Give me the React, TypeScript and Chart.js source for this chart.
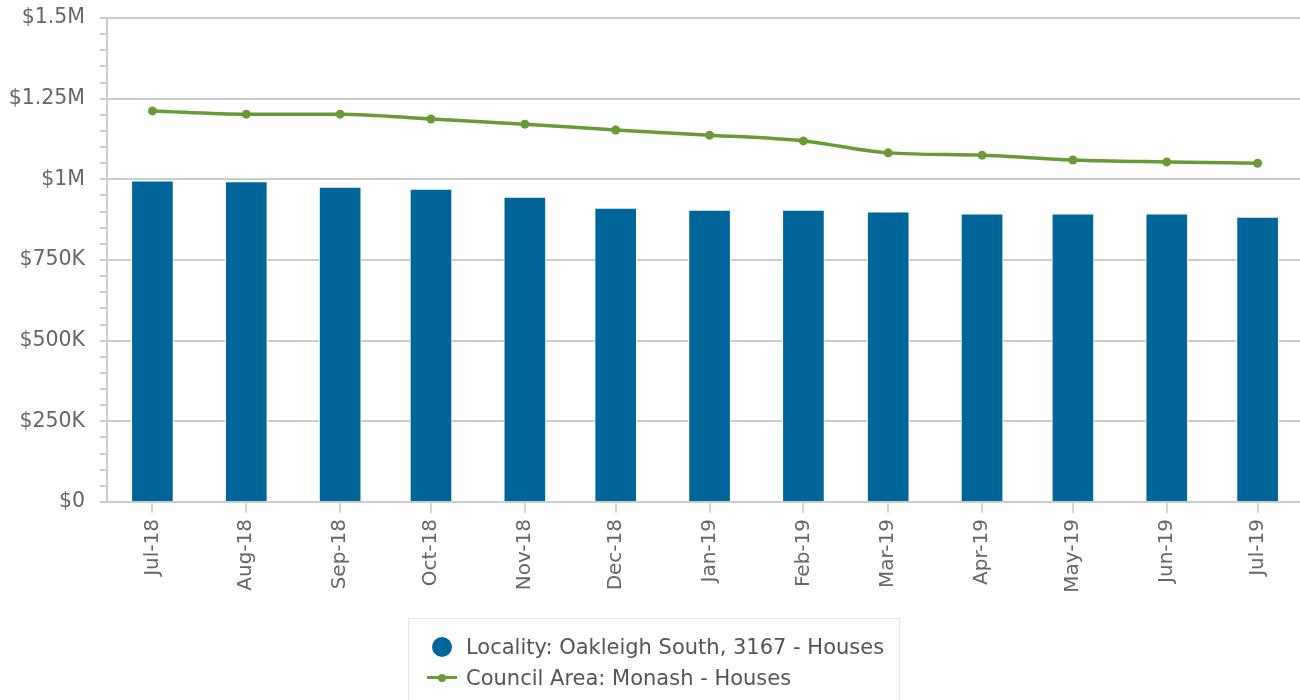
import React, { useEffect, useRef } from "react";
import { Chart, registerables } from "chart.js";

Chart.register(...registerables);

const months = ["Jul-18", "Aug-18", "Sep-18", "Oct-18", "Nov-18", "Dec-18", "Jan-19", "Feb-19", "Mar-19", "Apr-19", "May-19", "Jun-19", "Jul-19"];
const monthStarts = ["2018-07-01", "2018-08-01", "2018-09-01", "2018-10-01", "2018-11-01", "2018-12-01", "2019-01-01", "2019-02-01", "2019-03-01", "2019-04-01", "2019-05-01", "2019-06-01", "2019-07-01"];
const localityValues = [995000, 993000, 976000, 970000, 945000, 911000, 905000, 905000, 899000, 893000, 893000, 893000, 883000];
const councilValues = [1212000, 1202000, 1202000, 1187000, 1171000, 1153000, 1137000, 1119000, 1082000, 1075000, 1060000, 1054000, 1050000];
const localityLabel = "Locality: Oakleigh South, 3167 - Houses";
const councilLabel = "Council Area: Monash - Houses";

const DAY = 86400000;
const base = Date.parse(monthStarts[0]);
const dayOf = (s: string) => (Date.parse(s) - base) / DAY;
const xs = monthStarts.map(dayOf);

const BLUE = "#006699";
const GREEN = "#6a9a35";
const FONT = "'DejaVu Sans', Verdana, sans-serif";

function fmtMoney(v: number) {
  if (v === 0) return "$0";
  if (v >= 1000000) return "$" + +(v / 1000000).toFixed(2) + "M";
  return "$" + +(v / 1000).toFixed(0) + "K";
}

export default function App() {
  const ref = useRef<HTMLCanvasElement | null>(null);
  useEffect(() => {
    if (!ref.current) return;
    const chart = new Chart(ref.current, {
      type: "bar",
      data: {
        datasets: [
          {
            type: "line",
            label: councilLabel,
            data: xs.map((x, i) => ({ x, y: councilValues[i] })),
            borderColor: GREEN,
            backgroundColor: GREEN,
            borderWidth: 3.5,
            pointRadius: 4.5,
            pointHoverRadius: 4.5,
            pointBorderWidth: 0,
            cubicInterpolationMode: "monotone",
            order: 0,
          } as any,
          {
            type: "bar",
            label: localityLabel,
            data: xs.map((x, i) => ({ x, y: localityValues[i] })),
            backgroundColor: BLUE,
            borderColor: "#ffffff",
            borderWidth: 1,
            barThickness: 42,
            order: 1,
          } as any,
        ],
      },
      options: {
        animation: false,
        responsive: true,
        maintainAspectRatio: false,
        layout: { autoPadding: false, padding: { top: 18, left: 0, right: 0, bottom: 0 } },
        plugins: { legend: { display: false }, tooltip: { enabled: false } },
        scales: {
          x: {
            type: "linear",
            min: -15,
            max: 379,
            offset: false,
            afterBuildTicks: (scale: any) => {
              scale.ticks = xs.map((v) => ({ value: v }));
            },
            afterFit: (scale: any) => {
              scale.height = 198;
              scale.paddingLeft = 0;
              scale.paddingRight = 0;
            },
            grid: {
              offset: false,
              drawOnChartArea: false,
              drawTicks: true,
              tickLength: 11,
              tickColor: "#ccd6eb",
              lineWidth: 2,
            },
            border: { display: true, color: "#cccccc", width: 2 },
            ticks: {
              autoSkip: false,
              maxRotation: 90,
              minRotation: 90,
              padding: 6,
              color: "#666666",
              font: { family: FONT, size: 20 },
              callback: (_v: any, i: number) => months[i],
            },
          },
          y: {
            min: 0,
            max: 1500000,
            afterFit: (scale: any) => {
              scale.width = 107;
              scale.paddingTop = 0;
              scale.paddingBottom = 0;
            },
            grid: {
              color: (ctx: any) => (ctx.tick && ctx.tick.value % 250000 === 0 ? "#cccccc" : "rgba(0,0,0,0)"),
              tickColor: "#cccccc",
              tickLength: 7,
              lineWidth: 2,
            },
            border: { display: true, color: "#cccccc", width: 2 },
            ticks: {
              stepSize: 50000,
              autoSkip: false,
              padding: 15,
              color: "#666666",
              font: { family: FONT, size: 20.5 },
              callback: (v: any) => (Number(v) % 250000 === 0 ? fmtMoney(Number(v)) : ""),
            },
          },
        },
      } as any,
    });
    return () => chart.destroy();
  }, []);

  return (
    <div style={{ position: "absolute", left: 0, top: 0, width: 1300, height: 700, overflow: "hidden", background: "#fff" }}>
      <canvas ref={ref} style={{ position: "absolute", left: 0, top: 0, width: 1300, height: 700 }} />
      <div
        style={{
          position: "absolute",
          left: 408,
          top: 618,
          width: 492,
          height: 110,
          border: "1px solid #e6e6e6",
          boxSizing: "border-box",
          fontFamily: FONT,
          fontSize: 21,
          color: "#555555",
        }}
      >
        <div style={{ position: "absolute", left: 23, top: 18, width: 20, height: 20, borderRadius: 10, background: BLUE }} />
        <div style={{ position: "absolute", left: 57, top: 14, lineHeight: "28px", whiteSpace: "nowrap" }}>{localityLabel}</div>
        <div style={{ position: "absolute", left: 18, top: 57, width: 30, height: 3, background: GREEN }} />
        <div style={{ position: "absolute", left: 29, top: 55, width: 8, height: 8, borderRadius: 4, background: GREEN }} />
        <div style={{ position: "absolute", left: 57, top: 45, lineHeight: "28px", whiteSpace: "nowrap" }}>{councilLabel}</div>
      </div>
    </div>
  );
}
